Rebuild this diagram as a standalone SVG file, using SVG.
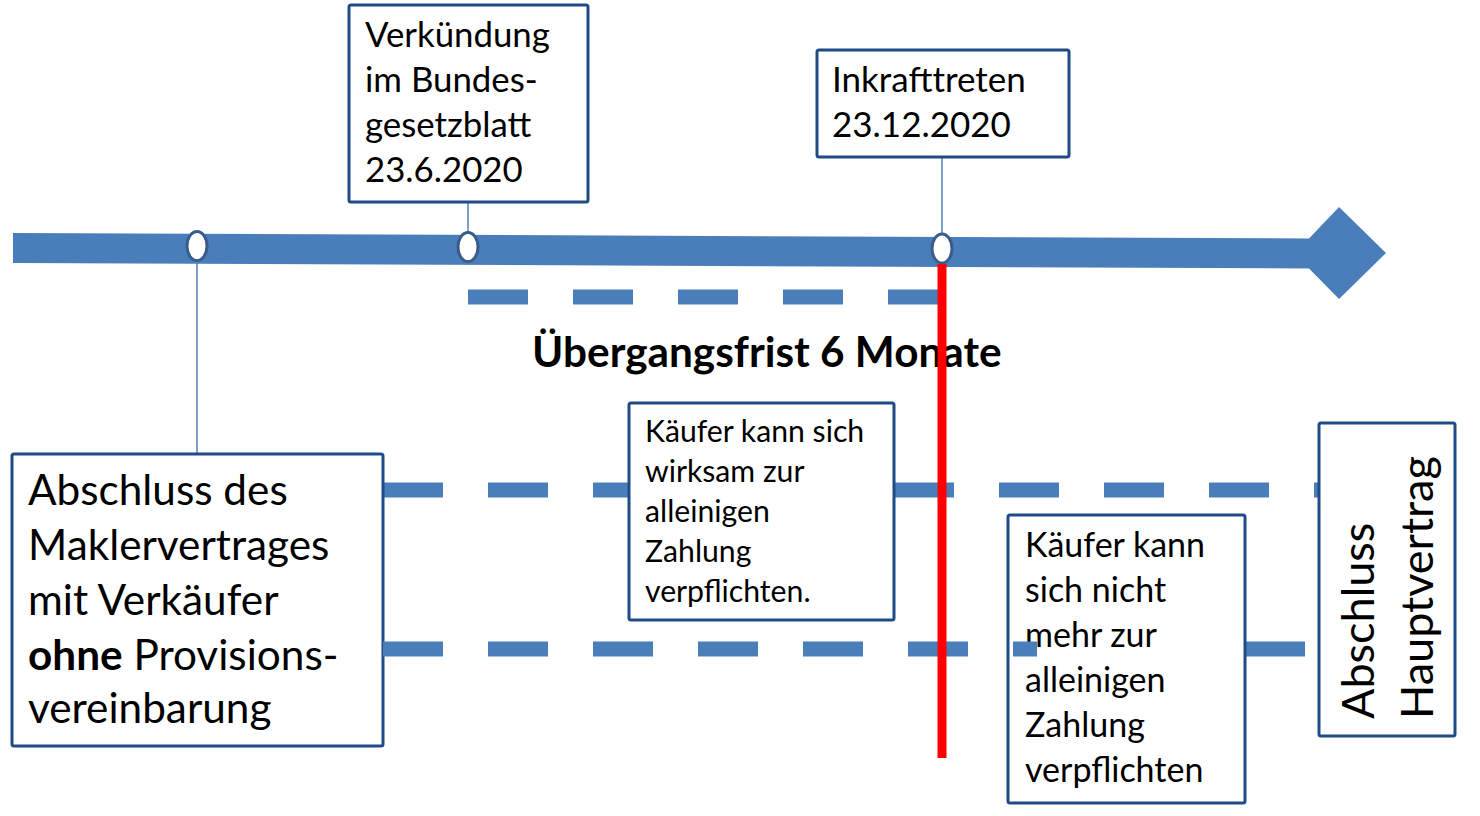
<svg xmlns="http://www.w3.org/2000/svg" width="1480" height="816" viewBox="0 0 1480 816">
<style>
.box{fill:#ffffff;stroke:#1f4b87;stroke-width:3}
.t{font-family:Lato,"Liberation Sans",sans-serif;fill:#000000}
.dash{stroke:#4a7ebb;stroke-width:15;stroke-dasharray:60 45;fill:none}
.thin{stroke:#4f7fb5;stroke-width:1.5}
.node{fill:#ffffff;stroke:#385d8a;stroke-width:3}
</style>
<rect width="1480" height="816" fill="#ffffff"/>
<g id="timeline">
<polygon points="13,233 1309,238.5 1339,207 1386,253 1339,299 1309,268.5 13,263" fill="#4a7ebb"/>
</g>
<g id="connectors">
<line class="thin" x1="197" y1="262" x2="197" y2="454"/>
<line class="thin" x1="468" y1="232" x2="468" y2="202"/>
<line class="thin" x1="942" y1="234" x2="942" y2="157"/>
<line class="dash" x1="468" y1="297" x2="942" y2="297"/>
<line class="dash" x1="383" y1="490" x2="629" y2="490"/>
<line class="dash" x1="894" y1="490" x2="1319" y2="490"/>
<line class="dash" x1="1245" y1="649" x2="1305" y2="649"/>
</g>
<g id="points">
<ellipse class="node" cx="197" cy="246" rx="10" ry="14.5"/>
<ellipse class="node" cx="468" cy="247" rx="10" ry="14.5"/>
<ellipse class="node" cx="942" cy="248.5" rx="10" ry="14.5"/>
</g>
<g id="verkuendung">
<rect class="box" x="349" y="5" width="239" height="197" rx="2"/>
<text class="t" font-size="34.8" x="365"><tspan x="365" y="47">Verkündung</tspan><tspan x="365" y="92">im Bundes-</tspan><tspan x="365" y="137">gesetzblatt</tspan><tspan x="365" y="182">23.6.2020</tspan></text>
</g>
<g id="inkrafttreten">
<rect class="box" x="817" y="50" width="252" height="107" rx="2"/>
<text class="t" font-size="35" x="832"><tspan x="832" y="92">Inkrafttreten</tspan><tspan x="832" y="137">23.12.2020</tspan></text>
</g>
<g id="uebergangsfrist">
<text class="t" font-size="42.3" font-weight="bold" x="532" y="367">Übergangsfrist 6 Monate</text>
</g>
<g id="maklervertrag">
<rect class="box" x="12" y="454" width="371" height="292" rx="2"/>
<text class="t" font-size="42.3" x="28"><tspan x="28" y="505">Abschluss des</tspan><tspan x="28" y="560">Maklervertrages</tspan><tspan x="28" y="615">mit Verkäufer</tspan><tspan x="28" y="670"><tspan font-weight="bold">ohne</tspan> Provisions-</tspan><tspan x="28" y="723">vereinbarung</tspan></text>
</g>
<g id="wirksam">
<rect class="box" x="629" y="403" width="265" height="217" rx="2"/>
<text class="t" font-size="30.2" x="645"><tspan x="645" y="442">Käufer kann sich</tspan><tspan x="645" y="482">wirksam zur</tspan><tspan x="645" y="522">alleinigen</tspan><tspan x="645" y="562">Zahlung</tspan><tspan x="645" y="602">verpflichten.</tspan></text>
</g>
<g id="nicht-mehr">
<rect class="box" x="1008" y="515" width="237" height="288" rx="2"/>
<text class="t" font-size="34" x="1025"><tspan x="1025" y="557">Käufer kann</tspan><tspan x="1025" y="602">sich nicht</tspan><tspan x="1025" y="647">mehr zur</tspan><tspan x="1025" y="692">alleinigen</tspan><tspan x="1025" y="737">Zahlung</tspan><tspan x="1025" y="782">verpflichten</tspan></text>
</g>
<g id="connector-lower">
<line class="dash" x1="383" y1="649" x2="1037" y2="649"/>
</g>
<g id="hauptvertrag">
<rect class="box" x="1319" y="423" width="136" height="313" rx="2"/>
<text class="t" font-size="45" transform="translate(1374,719) rotate(-90)" x="0" y="0">Abschluss</text>
<text class="t" font-size="45" transform="translate(1433,719) rotate(-90)" x="0" y="0">Hauptvertrag</text>
</g>
<g id="stichtag">
<line x1="942" y1="264" x2="942" y2="758" stroke="#ff0000" stroke-width="9"/>
</g>
</svg>
